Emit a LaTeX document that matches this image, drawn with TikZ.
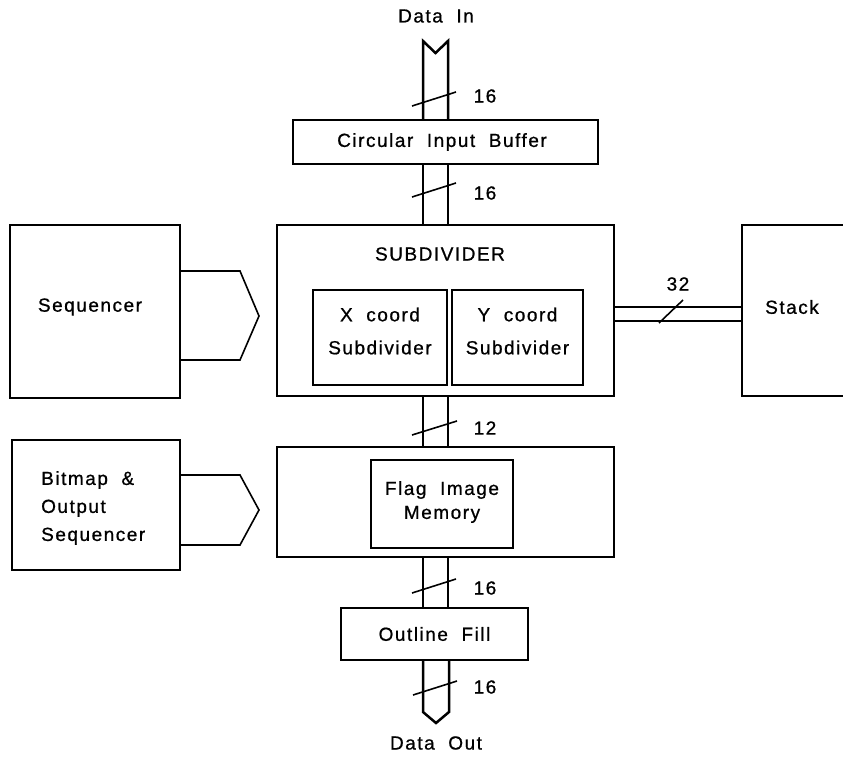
\documentclass[tikz,border=0pt]{standalone}
\usepackage{fontspec}
\setmainfont{Liberation Sans}[LetterSpace=8,WordSpace=2,FakeBold=0.8]
\begin{document}
\begin{tikzpicture}[x=1pt,y=-1pt,
  every node/.style={font=\fontsize{19}{22}\selectfont},
  box/.style={draw,line width=2.4pt,inner sep=0pt},
  txt/.style={inner sep=0pt},
  bus/.style={line width=2.5pt},
  slash/.style={line width=1.6pt},
  tab/.style={line width=1.6pt}]
\useasboundingbox (0,0) rectangle (843,758);
% boxes
\node[txt] (din) at (436,16) {Data In};
\node[box,minimum width=305,minimum height=44] (buf) at (445.5,142) {};
\node[txt] (buft) at (442,142) {Circular Input Buffer};
\node[box,minimum width=337,minimum height=171] (sub) at (445.5,310.5) {};
\node[txt] (subt) at (440,254) {SUBDIVIDER};
\node[box,minimum width=134,minimum height=95] (xs) at (380,337.5) {};
\node[txt,align=center] (xst) at (380,331) {X coord\\[11pt]Subdivider};
\node[box,minimum width=131,minimum height=95] (ys) at (517.5,337.5) {};
\node[txt,align=center] (yst) at (517.5,331) {Y coord\\[11pt]Subdivider};
\node[box,minimum width=170,minimum height=173] (seq) at (95,311.5) {};
\node[txt] (seqt) at (90,307) {Sequencer};
\node[txt] (stk) at (792,307) {Stack};
\coordinate (stkTR) at (845,225);
\coordinate (stkTL) at (742,225);
\coordinate (stkBL) at (742,396);
\coordinate (stkBR) at (845,396);
\draw[line width=2.4pt] (stkTR) -- (stkTL) -- (stkBL) -- (stkBR);
\node[box,minimum width=337,minimum height=110] (mem) at (445.5,502) {};
\node[box,minimum width=142,minimum height=88] (flag) at (442,504) {};
\node[txt,align=center] (flagt) at (442,502) {Flag Image\\[2pt]Memory};
\node[box,minimum width=168,minimum height=130] (bmp) at (96,505) {};
\node[txt,align=left,anchor=west] (bmpt) at (41,508) {Bitmap \&\\[6pt]Output\\[6pt]Sequencer};
\node[box,minimum width=187,minimum height=52] (fill) at (434.5,634) {};
\node[txt] (fillt) at (434.5,634) {Outline Fill};
\node[txt] (dout) at (436,743) {Data Out};
% bus x positions
\coordinate (bl) at (423,0);
\coordinate (br) at (448,0);
% data in
\coordinate (inL) at (423,41);
\coordinate (inV) at (435.5,53);
\coordinate (inR) at (448,41);
\draw[bus] (bl |- buf.north) -- (inL) -- (inV) -- (inR) -- (br |- buf.north);
\draw[bus] (bl |- buf.south) -- (bl |- sub.north);
\draw[bus] (br |- buf.south) -- (br |- sub.north);
\draw[bus] (bl |- sub.south) -- (bl |- mem.north);
\draw[bus] (br |- sub.south) -- (br |- mem.north);
\draw[bus] (bl |- mem.south) -- (bl |- fill.north);
\draw[bus] (br |- mem.south) -- (br |- fill.north);
% data out
\coordinate (outL) at (423,712);
\coordinate (outV) at (436,723);
\coordinate (outR) at (449,712);
\draw[bus] (bl |- fill.south) -- (outL) -- (outV) -- (outR) -- (449,660);
% stack bus
\coordinate (sy1) at (0,307);
\coordinate (sy2) at (0,321);
\draw[bus] (sub.east |- sy1) -- (stkTL |- sy1);
\draw[bus] (sub.east |- sy2) -- (stkTL |- sy2);
% slashes and widths
\coordinate (s1a) at (412,106); \coordinate (s1b) at (456,92);
\draw[slash] (s1a) -- (s1b);
\node[txt] (w1) at (485,96) {16};
\coordinate (s2a) at (412,197); \coordinate (s2b) at (456,183);
\draw[slash] (s2a) -- (s2b);
\node[txt] (w2) at (485,193) {16};
\coordinate (s3a) at (412,435); \coordinate (s3b) at (457,421);
\draw[slash] (s3a) -- (s3b);
\node[txt] (w3) at (485,428) {12};
\coordinate (s4a) at (412,593); \coordinate (s4b) at (456,579);
\draw[slash] (s4a) -- (s4b);
\node[txt] (w4) at (485,588) {16};
\coordinate (s5a) at (413,695); \coordinate (s5b) at (457,681);
\draw[slash] (s5a) -- (s5b);
\node[txt] (w5) at (485,687) {16};
\coordinate (s6a) at (659,323); \coordinate (s6b) at (683,300);
\draw[slash] (s6a) -- (s6b);
\node[txt] (w6) at (678,284) {32};
% control tabs
\coordinate (q1) at (240,271); \coordinate (q2) at (259,316); \coordinate (q3) at (240,360);
\draw[tab] (seq.east |- q1) -- (q1) -- (q2) -- (q3) -- (seq.east |- q3);
\coordinate (b1) at (240,475); \coordinate (b2) at (259,510); \coordinate (b3) at (240,545);
\draw[tab] (bmp.east |- b1) -- (b1) -- (b2) -- (b3) -- (bmp.east |- b3);
\end{tikzpicture}
\end{document}
